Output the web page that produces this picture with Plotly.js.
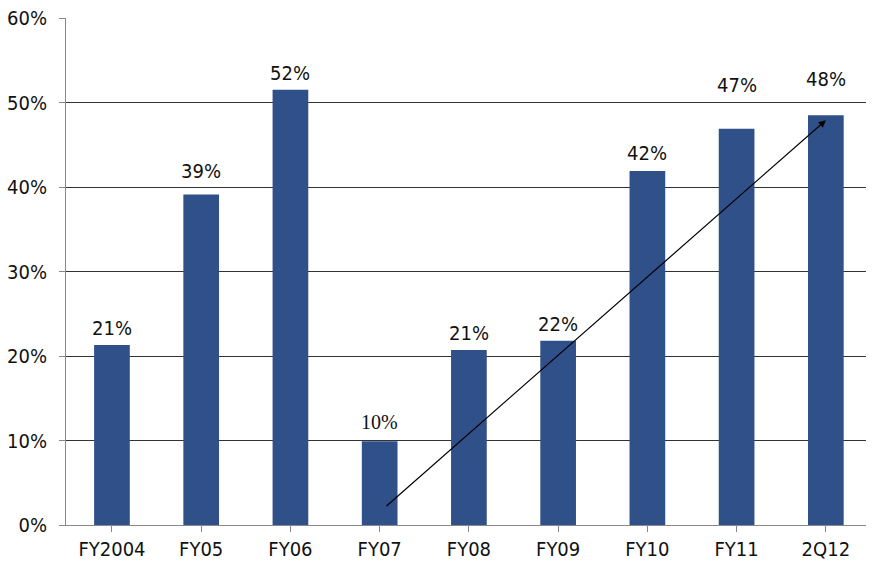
<!DOCTYPE html>
<html><head><meta charset="utf-8">
<script src="https://cdn.plot.ly/plotly-3.0.1.min.js"></script>
<style>html,body{margin:0;padding:0;background:#fff}</style>
</head><body>
<div id="chart" style="width:875px;height:574px"></div>
<script>
const categories = ["FY2004","FY05","FY06","FY07","FY08","FY09","FY10","FY11","2Q12"];
const values = [21.3, 39.1, 51.5, 9.9, 20.7, 21.8, 41.9, 46.9, 48.5];
const labels = ["21%","39%","52%","10%","21%","22%","42%","47%","48%"];
const yTicks = [0,10,20,30,40,50,60];
const yTickText = ["0%","10%","20%","30%","40%","50%","60%"];
const trendStart = [3.06, 2.1];
const trendEnd = [8.0, 47.9];

const font = "'DejaVu Sans Condensed',sans-serif";
const labelShift = [20, 27, 20, 23, 20, 20, 21, 47, 39];

const annotations = labels.map((t,i)=>({
  x: i, y: values[i], xref:'x', yref:'y', text: t, showarrow:false,
  yanchor:'bottom', yshift: labelShift[i] - 17,
  font:{family: i===3 ? "'Liberation Serif','DejaVu Serif',serif" : font, size:20, color:'#111'}
}));
annotations.push({
  x: trendEnd[0], y: trendEnd[1], ax: trendStart[0], ay: trendStart[1],
  xref:'x', yref:'y', axref:'x', ayref:'y', showarrow:true,
  arrowhead:2, arrowsize:1.2, arrowwidth:1.2, arrowcolor:'#000', text:''
});

const data = [{
  type:'bar', x: categories.map((c,i)=>i), y: values,
  marker:{color:'#2F5089'}, width:0.4, hoverinfo:'none'
}];

const layout = {
  width:875, height:574,
  margin:{l:66, r:9, t:18, b:49},
  paper_bgcolor:'#fff', plot_bgcolor:'#fff',
  showlegend:false,
  font:{family:font, size:20, color:'#111'},
  xaxis:{
    tickmode:'array', tickvals: categories.map((c,i)=>i), ticktext: categories,
    range:[-0.515, 8.45], showgrid:false, zeroline:false,
    showline:true, linecolor:'#888', linewidth:1,
    ticks:'outside', ticklen:6, tickcolor:'#888', tickson:'boundaries',
    tickfont:{family:font, size:20, color:'#111'}
  },
  yaxis:{
    range:[0,60], tickmode:'array', tickvals:yTicks, ticktext:yTickText,
    showgrid:true, gridcolor:'#333', gridwidth:1, zeroline:false,
    showline:true, linecolor:'#888', linewidth:1,
    ticks:'outside', ticklen:6, tickcolor:'#888', ticklabelstandoff:8,
    tickfont:{family:font, size:20, color:'#111'}
  },
  annotations: annotations
};

Plotly.newPlot('chart', data, layout, {staticPlot:true, displayModeBar:false});
</script>
</body></html>
